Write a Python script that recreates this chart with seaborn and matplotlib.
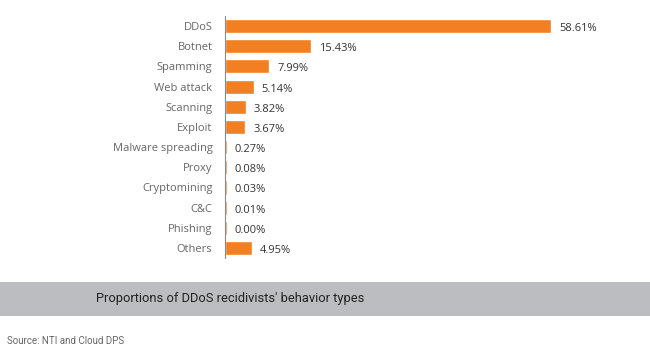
import matplotlib
matplotlib.use('Agg')
import matplotlib.pyplot as plt
import seaborn as sns
import pandas as pd
from matplotlib.patches import Rectangle

# Data
categories = ['DDoS', 'Botnet', 'Spamming', 'Web attack', 'Scanning', 'Exploit',
              'Malware spreading', 'Proxy', 'Cryptomining', 'C&C', 'Phishing', 'Others']
shares = [58.61, 15.43, 7.99, 5.14, 3.82, 3.67, 0.27, 0.08, 0.03, 0.01, 0.00, 4.95]
value_labels = ['58.61%', '15.43%', '7.99%', '5.14%', '3.82%', '3.67%',
                '0.27%', '0.08%', '0.03%', '0.01%', '0.00%', '4.95%']

df = pd.DataFrame({'category': categories, 'share': shares})

sns.set_style('white')
plt.rcParams['font.family'] = ['Open Sans', 'DejaVu Sans']

fig = plt.figure(figsize=(6.5, 3.55), dpi=100)
ax = fig.add_axes([0.346, 0.273, 0.60, 0.682])

sns.barplot(data=df, x='share', y='category', color='#f28023', saturation=1,
            width=0.7, ax=ax)
# tiny bars still show a sliver in the original
for p in ax.patches:
    if p.get_width() < 0.3:
        p.set_width(0.3)

ax.set_xlim(0, 70)
ax.set_ylim(11.5, -0.5)
ax.set_xlabel('')
ax.set_ylabel('')
ax.set_xticks([])
for s in ['top', 'right', 'bottom']:
    ax.spines[s].set_visible(False)
ax.spines['left'].set_color('#8c8c8c')
ax.spines['left'].set_linewidth(0.8)
ax.tick_params(axis='y', length=0, pad=9, labelsize=8, labelcolor='#666666')

for i, (v, lab) in enumerate(zip(shares, value_labels)):
    ax.text(max(v, 0.3) + 1.4, i + 0.12, lab, va='center', ha='left',
            fontsize=8, color='#333333')

# gray caption band
fig.patches.append(Rectangle((0, 0.11), 1, 0.096, transform=fig.transFigure,
                             facecolor='#bcbdc0', edgecolor='none', zorder=0))
fig.text(0.354, 0.158, "Proportions of DDoS recidivists' behavior types",
         ha='center', va='center', fontsize=9.3, color='#222222',
         family=['Roboto', 'DejaVu Sans'])
fig.text(0.011, 0.025, 'Source: NTI and Cloud DPS', ha='left', va='bottom',
         fontsize=7, color='#666666', family=['Roboto', 'DejaVu Sans'])

fig.savefig('out.png', dpi=100)
